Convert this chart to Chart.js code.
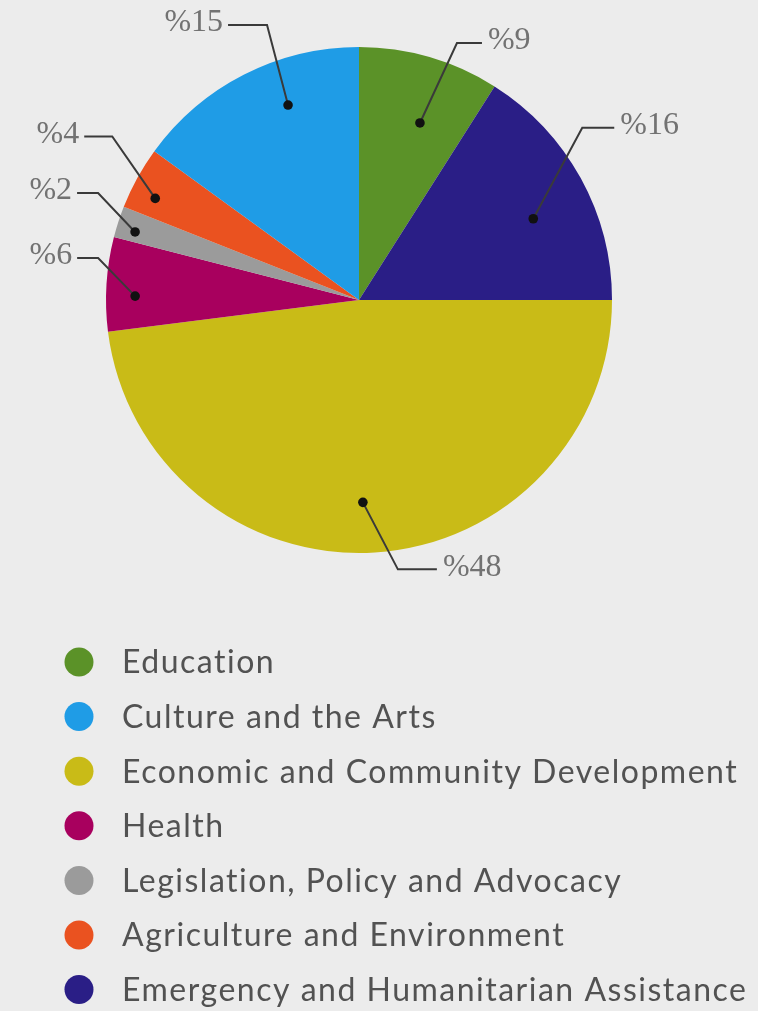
<!DOCTYPE html>
<html>
<head>
<meta charset="utf-8">
<script src="https://cdn.jsdelivr.net/npm/chart.js@4/dist/chart.umd.min.js"></script>
<style>
  html, body { margin: 0; padding: 0; background: #ececec; }
  #wrap { width: 758px; height: 1011px; position: relative; }
</style>
</head>
<body>
<div id="wrap"><canvas id="c" width="758" height="1011"></canvas></div>
<script>
// ---- data ----
const categories = [
  'Education',
  'Emergency and Humanitarian Assistance',
  'Economic and Community Development',
  'Health',
  'Legislation, Policy and Advocacy',
  'Agriculture and Environment',
  'Culture and the Arts'
];
const values = [9, 16, 48, 6, 2, 4, 15];
const sliceColors = ['#5b9228', '#2a1e86', '#c9bb17', '#a8005e', '#9b9b9b', '#ea5220', '#1f9ce6'];
const legendOrder = [
  'Education',
  'Culture and the Arts',
  'Economic and Community Development',
  'Health',
  'Legislation, Policy and Advocacy',
  'Agriculture and Environment',
  'Emergency and Humanitarian Assistance'
];

// ---- leader-line layout (style only, per slice) ----
const leaderLayout = [
  { da: 2.8,  rf: 0.74,  ex: 37,  ey: -80, h: 25 },
  { da: 3.8,  rf: 0.76,  ex: 49,  ey: -91, h: 32 },
  { da: 2.5,  rf: 0.80,  ex: 35,  ey: 67,  h: 39 },
  { da: -2.6, rf: 0.885, ex: -37, ey: -38, h: -21 },
  { da: -1.1, rf: 0.925, ex: -37, ey: -39, h: -21 },
  { da: -2.3, rf: 0.90,  ex: -43, ey: -62, h: -28 },
  { da: 7,    rf: 0.82,  ex: -21, ey: -80, h: -39 }
];

const leaderPlugin = {
  id: 'leaders',
  afterDatasetsDraw(chart) {
    const ctx = chart.ctx;
    const meta = chart.getDatasetMeta(0);
    ctx.save();
    meta.data.forEach((arc, i) => {
      const p = arc.getProps(['x', 'y', 'startAngle', 'endAngle', 'outerRadius'], true);
      const L = leaderLayout[i];
      const a = (p.startAngle + p.endAngle) / 2 + L.da * Math.PI / 180;
      const r = p.outerRadius * L.rf;
      const dx = p.x + Math.cos(a) * r;
      const dy = p.y + Math.sin(a) * r;
      const ex = dx + L.ex, ey = dy + L.ey;
      const hx = ex + L.h;
      ctx.strokeStyle = '#3a3a3a';
      ctx.lineWidth = 2;
      ctx.beginPath();
      ctx.moveTo(dx, dy);
      ctx.lineTo(ex, ey);
      ctx.lineTo(hx, ey);
      ctx.stroke();
      ctx.fillStyle = '#111';
      ctx.beginPath();
      ctx.arc(dx, dy, 4.8, 0, Math.PI * 2);
      ctx.fill();
      ctx.font = '32px "Liberation Serif", "DejaVu Serif", serif';
      ctx.fillStyle = '#727272';
      ctx.textBaseline = 'middle';
      if (L.h > 0) {
        ctx.textAlign = 'left';
        ctx.fillText('%' + values[i], hx + 6, ey - 2);
      } else {
        ctx.textAlign = 'right';
        ctx.fillText('%' + values[i], hx - 5, ey - 2);
      }
    });
    ctx.restore();
  }
};

const legendPlugin = {
  id: 'customLegend',
  afterDraw(chart) {
    const ctx = chart.ctx;
    ctx.save();
    legendOrder.forEach((name, k) => {
      const idx = categories.indexOf(name);
      const cy = 662 + k * 54.6;
      ctx.fillStyle = sliceColors[idx];
      ctx.beginPath();
      ctx.arc(79, cy, 14.5, 0, Math.PI * 2);
      ctx.fill();
      ctx.font = '32px Lato, "Open Sans", sans-serif';
      if ('letterSpacing' in ctx) ctx.letterSpacing = '1.5px';
      ctx.fillStyle = '#525252';
      ctx.textAlign = 'left';
      ctx.textBaseline = 'middle';
      ctx.fillText(name, 122, cy + 1);
    });
    ctx.restore();
  }
};

new Chart(document.getElementById('c'), {
  type: 'pie',
  data: {
    labels: categories,
    datasets: [{
      data: values,
      backgroundColor: sliceColors,
      borderWidth: 0
    }]
  },
  options: {
    responsive: false,
    animation: false,
    layout: { padding: { left: 106, right: 146, top: 47, bottom: 458 } },
    plugins: {
      legend: { display: false },
      tooltip: { enabled: false }
    }
  },
  plugins: [leaderPlugin, legendPlugin]
});
</script>
</body>
</html>
